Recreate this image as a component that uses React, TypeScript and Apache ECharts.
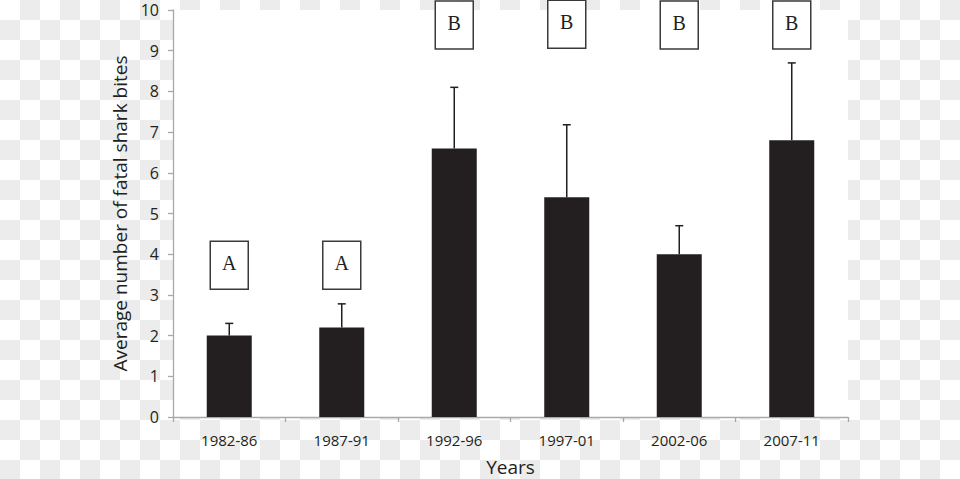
import React, { useEffect, useRef } from "react";
import * as echarts from "echarts";

const categories = ["1982-86", "1987-91", "1992-96", "1997-01", "2002-06", "2007-11"];
const means = [2.0, 2.2, 6.6, 5.4, 4.0, 6.8];
const upperErrors = [2.3, 2.78, 8.1, 7.18, 4.7, 8.7];
const groupLetters = ["A", "A", "B", "B", "B", "B"];
const letterLevels = [3.73, 3.73, 9.63, 9.65, 9.63, 9.63];
const yTicks = { min: 0, max: 10, interval: 1 };

export default function App() {
  const ref = useRef<HTMLDivElement>(null);
  useEffect(() => {
    if (!ref.current) return;
    const chart = echarts.init(ref.current, null, { renderer: "svg" });
    const textColor = "#231f20";
    chart.setOption({
      animation: false,
      backgroundColor: "transparent",
      grid: {
        left: 173,
        right: 112,
        top: 10,
        bottom: 62,
        containLabel: false,
        outerBoundsMode: "none",
        show: true,
        backgroundColor: "#ffffff",
        borderWidth: 0,
      },
      xAxis: {
        type: "category",
        data: categories,
        name: "Years",
        nameLocation: "middle",
        nameGap: 40,
        nameTextStyle: { fontFamily: "Open Sans", fontSize: 19, color: textColor },
        axisLine: { lineStyle: { color: "#a8a8a8", width: 1.3 } },
        axisTick: { show: true, length: 5, lineStyle: { color: "#a8a8a8", width: 1.3 } },
        axisLabel: { fontFamily: "Open Sans", fontSize: 15, color: textColor, margin: 15 },
      },
      yAxis: {
        type: "value",
        min: yTicks.min,
        max: yTicks.max,
        interval: yTicks.interval,
        name: "Average number of fatal shark bites",
        nameLocation: "middle",
        nameGap: 40,
        nameTextStyle: { fontFamily: "Open Sans", fontSize: 19, color: textColor },
        axisLine: { show: true, lineStyle: { color: "#a8a8a8", width: 1.3 } },
        axisTick: { show: true, length: 5, lineStyle: { color: "#a8a8a8", width: 1.3 } },
        splitLine: { show: false },
        axisLabel: { fontFamily: "Open Sans", fontSize: 16, color: textColor, margin: 14 },
      },
      series: [
        {
          type: "bar",
          data: means,
          barWidth: 45,
          itemStyle: { color: "#231f20" },
        },
        {
          type: "custom",
          data: categories.map((_, i) => [i, means[i], upperErrors[i]]),
          z: 1,
          renderItem: (params: any, api: any) => {
            const i = api.value(0);
            const base = api.coord([i, api.value(1)]);
            const top = api.coord([i, api.value(2)]);
            const cap = 4;
            const style = { stroke: "#231f20", lineWidth: 1.5 };
            return {
              type: "group",
              children: [
                { type: "line", shape: { x1: base[0], y1: base[1], x2: top[0], y2: top[1] }, style },
                { type: "line", shape: { x1: top[0] - cap, y1: top[1], x2: top[0] + cap, y2: top[1] }, style },
              ],
            };
          },
        },
        {
          type: "custom",
          data: categories.map((_, i) => [i, letterLevels[i], groupLetters[i]]),
          clip: false,
          renderItem: (params: any, api: any) => {
            const i = api.value(0);
            const c = api.coord([i, api.value(1)]);
            const w = 38;
            const h = 48;
            return {
              type: "group",
              children: [
                {
                  type: "rect",
                  shape: { x: c[0] - w / 2, y: c[1] - h / 2, width: w, height: h },
                  style: { fill: "#ffffff", stroke: "#3a3a3a", lineWidth: 1.5 },
                },
                {
                  type: "text",
                  x: c[0],
                  y: c[1] - 2,
                  style: {
                    text: groupLetters[i],
                    fontFamily: "Liberation Serif",
                    fontSize: 20,
                    fill: "#231f20",
                    align: "center",
                    verticalAlign: "middle",
                  },
                },
              ],
            };
          },
        },
      ],
    });
    return () => chart.dispose();
  }, []);

  return (
    <div
      style={{
        position: "fixed",
        left: 0,
        top: 0,
        width: 960,
        height: 479,
        backgroundColor: "#ffffff",
        backgroundImage:
          "conic-gradient(#ececec 25%, #ffffff 0 50%, #ececec 0 75%, #ffffff 0)",
        backgroundSize: "40px 40px",
      }}
    >
      <div ref={ref} style={{ width: 960, height: 479 }} />
    </div>
  );
}
